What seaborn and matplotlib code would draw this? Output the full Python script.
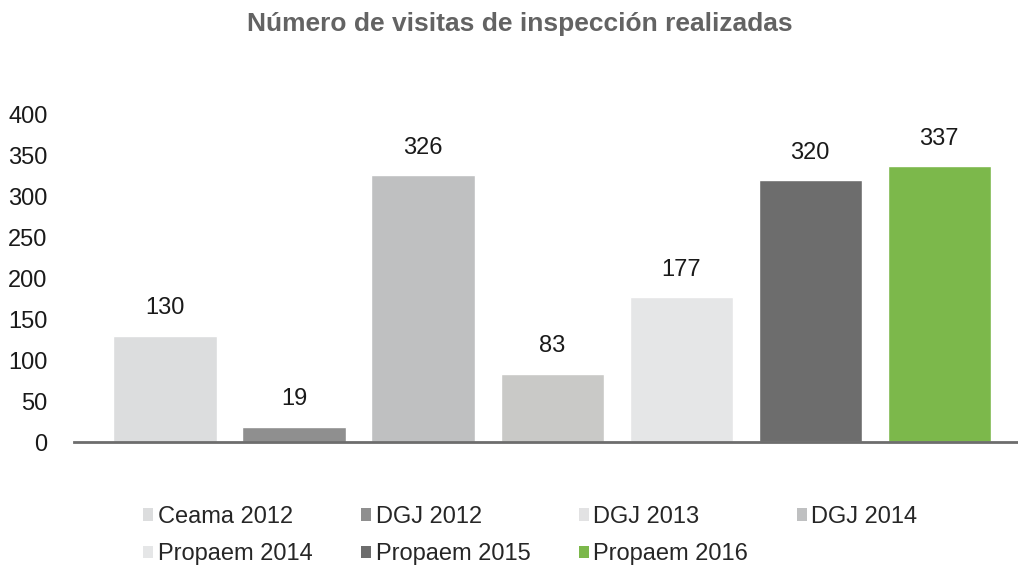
import numpy as np
import pandas as pd
import matplotlib
matplotlib.use('Agg')
import matplotlib.pyplot as plt
from matplotlib.patches import Patch
import seaborn as sns

# data
categorias = ['Ceama 2012', 'DGJ 2012', 'DGJ 2013', 'DGJ 2014',
              'Propaem 2014', 'Propaem 2015', 'Propaem 2016']
visitas = [130, 19, 326, 83, 177, 320, 337]
colores_barras = ['#DCDDDE', '#8F8F8F', '#BFC0C1', '#C9C9C7',
                  '#E5E6E7', '#6D6D6D', '#7CB84B']
colores_leyenda = ['#DCDDDE', '#8F8F8F', '#E2E2E3', '#BFC0C1',
                   '#E5E6E7', '#6D6D6D', '#7CB84B']
y_ticks = [0, 50, 100, 150, 200, 250, 300, 350, 400]

df = pd.DataFrame({'Categoria': categorias, 'Visitas': visitas})

sns.set_style('white')
plt.rcParams['font.family'] = ['Liberation Sans', 'DejaVu Sans']

fig = plt.figure(figsize=(10.18, 5.66), dpi=100)
ax = fig.add_axes([0.0727, 0.219, 0.9273, 0.578])

sns.barplot(x='Categoria', y='Visitas', data=df, hue='Categoria',
            palette=colores_barras, width=0.8, legend=False, ax=ax,
            saturation=1)

for c in ax.containers:
    ax.bar_label(c, padding=12, fontsize=17, color='#1a1a1a')

ax.set_ylim(0, 400)
ax.set_xlim(-0.705, 6.61)
ax.set_yticks(y_ticks)
ax.set_xticks([])
ax.set_xlabel('')
ax.set_ylabel('')
ax.tick_params(axis='y', length=0, pad=19, labelsize=17, labelcolor='#1a1a1a')
for s in ['top', 'right', 'left']:
    ax.spines[s].set_visible(False)
ax.spines['bottom'].set_color('#6D6D6D')
ax.spines['bottom'].set_linewidth(2)

fig.suptitle('Número de visitas de inspección realizadas', x=0.511, y=0.979,
             fontsize=19, fontweight='bold', color='#636363')

# legend filled by rows, like the original
orden = [0, 4, 1, 5, 2, 6, 3]
handles = [Patch(facecolor=colores_leyenda[i], edgecolor='none') for i in orden]
etiquetas = [categorias[i] for i in orden]
fig.legend(handles, etiquetas, loc='upper left', bbox_to_anchor=(0.129, 0.127),
           ncol=4, frameon=False, fontsize=17, handlelength=0.42,
           handleheight=0.42, handletextpad=0.2, columnspacing=2.05,
           labelspacing=0.65, borderpad=0)

plt.savefig('out.png', dpi=100)
